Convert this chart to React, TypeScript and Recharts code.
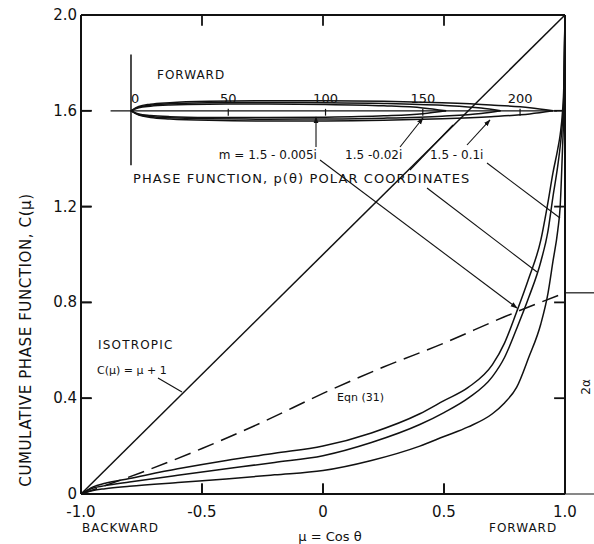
import {
  ComposedChart,
  Line,
  ReferenceDot,
  ReferenceLine,
  XAxis,
  YAxis,
} from "recharts"

const FONT = "'DejaVu Sans', sans-serif"
const INK = "#111"
// negative size turns the tick marks into the plot
const INWARD = -10
// the same tick length in axis units, for the drawn frame ticks
const MU_TICK_LEN = 0.045
const C_TICK_LEN = 0.045

// cumulative phase function C(mu) for m = 1.5 - k i
const MU = [-1, -0.95, -0.9, -0.8, -0.6, -0.4, -0.2, 0, 0.2, 0.4, 0.5, 0.6, 0.7, 0.75, 0.8, 0.85, 0.9, 0.93, 0.95, 0.97, 0.98, 0.99, 0.995, 1]
const C_005I = [0, 0.03, 0.045, 0.065, 0.105, 0.14, 0.17, 0.2, 0.255, 0.335, 0.39, 0.445, 0.54, 0.63, 0.76, 0.9, 1.06, 1.22, 1.34, 1.44, 1.5, 1.6, 1.7, 2]
const C_02I = [0, 0.025, 0.035, 0.05, 0.078, 0.105, 0.132, 0.16, 0.215, 0.29, 0.34, 0.4, 0.49, 0.57, 0.69, 0.82, 0.97, 1.1, 1.24, 1.37, 1.45, 1.56, 1.66, 2]
const C_1I = [0, 0.015, 0.022, 0.032, 0.048, 0.063, 0.08, 0.098, 0.14, 0.2, 0.24, 0.28, 0.335, 0.38, 0.445, 0.57, 0.71, 0.84, 0.97, 1.1, 1.2, 1.45, 1.6, 2]

// isotropic C(mu) = mu + 1
const ISO_MU = [-1, 1]
const ISO_C = [0, 2]

// Eqn (31)
const EQN31_MU = [-1, -0.75, -0.5, -0.25, 0, 0.25, 0.5, 0.75, 1]
const EQN31_C = [0, 0.09, 0.19, 0.3, 0.42, 0.53, 0.63, 0.74, 0.84]

// polar plot of p(theta): distance along the forward axis and half width
const LOBE_1I_R = [0, 4, 10, 20, 40, 70, 100, 130, 160, 185, 205, 217]
const LOBE_1I_W = [0, 2.2, 3.4, 4.2, 4.9, 5.2, 5.2, 4.9, 4.1, 3.0, 1.6, 0]
const LOBE_02I_R = [0, 4, 10, 20, 40, 70, 100, 130, 160, 180, 190]
const LOBE_02I_W = [0, 1.9, 2.9, 3.6, 4.1, 4.3, 4.2, 3.8, 2.8, 1.4, 0]
const LOBE_005I_R = [0, 4, 10, 20, 40, 70, 100, 130, 150, 162]
const LOBE_005I_W = [0, 1.6, 2.4, 3.0, 3.4, 3.5, 3.3, 2.6, 1.5, 0]

const MU_TICKS = [-1, -0.5, 0, 0.5, 1]
const MU_LABELS = ["-1.0", "-0.5", "0", "0.5", "1.0"]
const C_TICKS = [0, 0.4, 0.8, 1.2, 1.6, 2]
const C_LABELS = ["0", "0.4", "0.8", "1.2", "1.6", "2.0"]
const POLAR_TICKS = [0, 50, 100, 150, 200]

const POLAR_X_DOMAIN = [-25.7, 223.1]
const POLAR_Y_DOMAIN = [-197, 49.25]

type Note = { mu: number; c: number; text: string; anchor: "start" | "middle" | "end"; size: number; spacing?: number; rotate?: boolean }

const NOTES: Note[] = [
  { mu: -0.686, c: 1.731, text: "FORWARD", anchor: "start", size: 12, spacing: 1 },
  { mu: -0.025, c: 1.397, text: "m = 1.5 - 0.005i", anchor: "end", size: 12 },
  { mu: 0.091, c: 1.397, text: "1.5 -0.02i", anchor: "start", size: 12 },
  { mu: 0.442, c: 1.397, text: "1.5 - 0.1i", anchor: "start", size: 12 },
  { mu: -0.785, c: 1.3, text: "PHASE FUNCTION, p(θ) POLAR COORDINATES", anchor: "start", size: 13, spacing: 1.1 },
  { mu: -0.93, c: 0.605, text: "ISOTROPIC", anchor: "start", size: 12, spacing: 1.2 },
  { mu: -0.934, c: 0.501, text: "C(μ) = μ + 1", anchor: "start", size: 11 },
  { mu: 0.252, c: 0.388, text: "Eqn (31)", anchor: "end", size: 11 },
  { mu: -0.996, c: -0.159, text: "BACKWARD", anchor: "start", size: 12, spacing: 1 },
  { mu: 0.686, c: -0.159, text: "FORWARD", anchor: "start", size: 12, spacing: 1 },
  { mu: 0.029, c: -0.196, text: "μ = Cos  θ", anchor: "middle", size: 13 },
  { mu: -1.207, c: 0.643, text: "CUMULATIVE PHASE FUNCTION,  C(μ)", anchor: "middle", size: 15, spacing: 0.6, rotate: true },
  { mu: 1.103, c: 0.447, text: "2α", anchor: "middle", size: 12, rotate: true },
]

// leader lines: [mu0, c0, mu1, c1, arrow]
const LEADERS: [number, number, number, number, boolean][] = [
  [-0.0124, 1.3946, 0.8017, 0.7766, true],
  [0.4298, 1.2777, 0.8843, 0.9269, false],
  [0.6777, 1.382, 0.9793, 1.1524, false],
  [-0.0289, 1.4489, -0.0289, 1.5741, true],
  [0.3182, 1.4489, 0.4132, 1.5699, true],
  [0.595, 1.4572, 0.6901, 1.5616, true],
  [0.3595, 1.3528, 0.5372, 1.5407, false],
  [-0.6818, 0.4843, -0.5826, 0.4259, false],
]

const curve = (mu: number[], c: number[]) => mu.map((m, i) => ({ mu: m, c: c[i] }))
const lobe = (r: number[], w: number[], sign: number) => r.map((px, i) => ({ px, py: sign * w[i] }))

const noteShape = (n: Note) => (p: any) => (
  <text
    x={p.cx}
    y={p.cy}
    textAnchor={n.anchor}
    fontSize={n.size}
    fontFamily={FONT}
    letterSpacing={n.spacing ?? 0}
    fill={INK}
    transform={n.rotate ? `rotate(-90 ${p.cx} ${p.cy})` : undefined}
  >
    {n.text}
  </text>
)

const polarLabel = (v: number) => (p: any) => (
  <text x={p.cx} y={p.cy - 8} textAnchor={v === 0 ? "start" : "middle"} fontSize={13} fontFamily={FONT} fill={INK}>
    {v}
  </text>
)

// tick text is placed from the inner end of the tick mark, so step back outside
const BottomLabel = (p: any) => (
  <text x={p.x} y={p.y - INWARD + 23} textAnchor="middle" fontSize={15} fontFamily={FONT} fill={INK}>
    {MU_LABELS[MU_TICKS.indexOf(p.payload.value)]}
  </text>
)
const LeftLabel = (p: any) => (
  <text x={p.x + INWARD - 4} y={p.y + 5} textAnchor="end" fontSize={15} fontFamily={FONT} fill={INK}>
    {C_LABELS[C_TICKS.indexOf(p.payload.value)]}
  </text>
)

const frameLine = { stroke: INK, strokeWidth: 2 }
const frameTick = { stroke: INK, strokeWidth: 1.6 }

export default function App() {
  const lobes = [
    [LOBE_1I_R, LOBE_1I_W],
    [LOBE_02I_R, LOBE_02I_W],
    [LOBE_005I_R, LOBE_005I_W],
  ]
  const iso = curve(ISO_MU, ISO_C)
  const [muMin, muMax] = [MU_TICKS[0], MU_TICKS[MU_TICKS.length - 1]]
  const [cMin, cMax] = [C_TICKS[0], C_TICKS[C_TICKS.length - 1]]
  // inward tick marks on all four sides of the frame
  const frameTicks = [
    ...MU_TICKS.flatMap((t) => [
      [{ x: t, y: cMin }, { x: t, y: cMin + C_TICK_LEN }],
      [{ x: t, y: cMax }, { x: t, y: cMax - C_TICK_LEN }],
    ]),
    ...C_TICKS.flatMap((t) => [
      [{ x: muMin, y: t }, { x: muMin + MU_TICK_LEN, y: t }],
      [{ x: muMax, y: t }, { x: muMax - MU_TICK_LEN, y: t }],
    ]),
  ]
  return (
    <div style={{ position: "absolute", left: 0, top: 0, background: "#fff" }}>
      <ComposedChart width={594} height={544} margin={{ top: 14, right: 28, bottom: 0, left: 0 }}>
        <defs>
          <marker id="arrowHead" viewBox="0 0 10 10" refX="9" refY="5" markerWidth="7" markerHeight="7" orient="auto" markerUnits="userSpaceOnUse">
            <path d="M0,1.5 L10,5 L0,8.5 z" fill={INK} />
          </marker>
        </defs>

        <XAxis
          xAxisId="mu"
          dataKey="mu"
          type="number"
          domain={[-1, 1]}
          ticks={MU_TICKS}
          interval={0}
          height={50}
          tickLine={frameTick}
          tickSize={INWARD}
          tickMargin={0}
          axisLine={frameLine}
          tick={BottomLabel}
          allowDataOverflow
        />
        <YAxis
          yAxisId="c"
          type="number"
          domain={[0, 2]}
          ticks={C_TICKS}
          interval={0}
          width={81}
          tickLine={frameTick}
          tickSize={INWARD}
          tickMargin={0}
          axisLine={frameLine}
          tick={LeftLabel}
          allowDataOverflow
        />
        {/* top and right edges of the frame */}
        <XAxis xAxisId="muTop" dataKey="mu" type="number" orientation="top" domain={[-1, 1]} ticks={MU_TICKS} interval={0} height={1} tickLine={frameTick} tickSize={INWARD} tickMargin={0} axisLine={frameLine} tick={false} allowDataOverflow />
        <YAxis yAxisId="cRight" type="number" orientation="right" domain={[0, 2]} ticks={C_TICKS} interval={0} width={1} tickLine={frameTick} tickSize={INWARD} tickMargin={0} axisLine={frameLine} tick={false} allowDataOverflow />
        <Line xAxisId="muTop" yAxisId="cRight" data={iso} dataKey="c" stroke="none" dot={false} isAnimationActive={false} />

        {frameTicks.map((seg, i) => (
          <ReferenceLine key={`ft-${i}`} xAxisId="mu" yAxisId="c" segment={seg} stroke={INK} strokeWidth={1.8} ifOverflow="visible" />
        ))}

        {/* inset polar plot axes */}
        <XAxis xAxisId="polar" dataKey="px" type="number" domain={POLAR_X_DOMAIN} hide allowDataOverflow />
        <YAxis yAxisId="polar" type="number" domain={POLAR_Y_DOMAIN} hide allowDataOverflow />

        <Line xAxisId="mu" yAxisId="c" data={iso} dataKey="c" type="linear" stroke={INK} strokeWidth={1.5} dot={false} isAnimationActive={false} />
        <Line xAxisId="mu" yAxisId="c" data={curve(EQN31_MU, EQN31_C)} dataKey="c" type="monotone" stroke={INK} strokeWidth={1.5} strokeDasharray="17 8" dot={false} isAnimationActive={false} />
        <Line xAxisId="mu" yAxisId="c" data={curve(MU, C_005I)} dataKey="c" type="monotone" stroke={INK} strokeWidth={1.5} dot={false} isAnimationActive={false} />
        <Line xAxisId="mu" yAxisId="c" data={curve(MU, C_02I)} dataKey="c" type="monotone" stroke={INK} strokeWidth={1.5} dot={false} isAnimationActive={false} />
        <Line xAxisId="mu" yAxisId="c" data={curve(MU, C_1I)} dataKey="c" type="monotone" stroke={INK} strokeWidth={1.5} dot={false} isAnimationActive={false} />

        {lobes.map(([r, w], i) =>
          [1, -1].map((s) => (
            <Line
              key={`lobe-${i}-${s}`}
              xAxisId="polar"
              yAxisId="polar"
              data={lobe(r, w, s)}
              dataKey="py"
              type="monotone"
              stroke={INK}
              strokeWidth={1.5}
              dot={false}
              isAnimationActive={false}
            />
          ))
        )}

        <ReferenceLine xAxisId="polar" yAxisId="polar" segment={[{ x: -10.5, y: 0 }, { x: 219, y: 0 }]} stroke={INK} strokeWidth={1.2} ifOverflow="visible" />
        <ReferenceLine xAxisId="polar" yAxisId="polar" segment={[{ x: 0, y: 29 }, { x: 0, y: -28 }]} stroke={INK} strokeWidth={1.5} ifOverflow="visible" />
        {POLAR_TICKS.filter((v) => v > 0).map((v) => (
          <ReferenceLine key={`pt-${v}`} xAxisId="polar" yAxisId="polar" segment={[{ x: v, y: 1 }, { x: v, y: -2.5 }]} stroke={INK} strokeWidth={1.2} ifOverflow="visible" />
        ))}
        {POLAR_TICKS.map((v) => (
          <ReferenceDot key={`pl-${v}`} xAxisId="polar" yAxisId="polar" x={v} y={0} r={0} shape={polarLabel(v)} ifOverflow="visible" />
        ))}

        {/* stubs running off the right edge */}
        <ReferenceLine xAxisId="mu" yAxisId="c" segment={[{ x: 1, y: 0.84 }, { x: 1.12, y: 0.84 }]} stroke={INK} strokeWidth={1.2} ifOverflow="visible" />
        <ReferenceLine xAxisId="mu" yAxisId="c" segment={[{ x: 1, y: 0 }, { x: 1.12, y: 0 }]} stroke={INK} strokeWidth={1} ifOverflow="visible" />

        {LEADERS.map(([m0, c0, m1, c1, arrow], i) => (
          <ReferenceLine
            key={`ld-${i}`}
            xAxisId="mu"
            yAxisId="c"
            segment={[{ x: m0, y: c0 }, { x: m1, y: c1 }]}
            stroke={INK}
            strokeWidth={1.1}
            markerEnd={arrow ? "url(#arrowHead)" : undefined}
            ifOverflow="visible"
          />
        ))}

        {NOTES.map((n, i) => (
          <ReferenceDot key={`note-${i}`} xAxisId="mu" yAxisId="c" x={n.mu} y={n.c} r={0} shape={noteShape(n)} ifOverflow="visible" />
        ))}
      </ComposedChart>
    </div>
  )
}
